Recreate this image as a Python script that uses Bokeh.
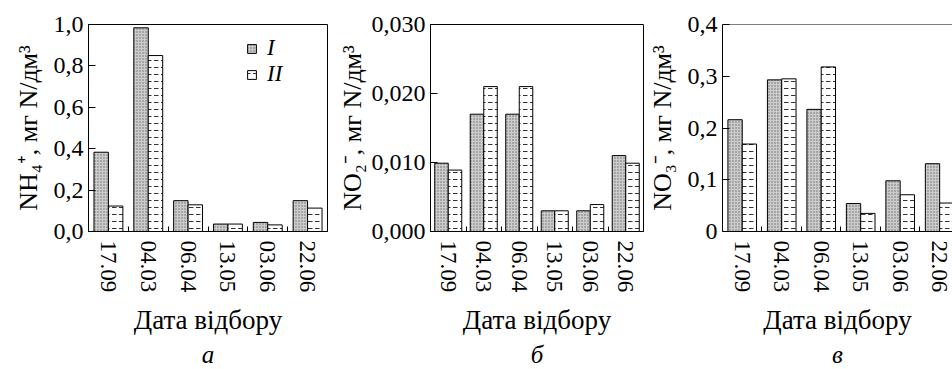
from bokeh.plotting import figure
from bokeh.layouts import row
from bokeh.models import (FixedTicker, Legend, LegendItem, Span, Title, Range1d,
                          ColumnDataSource, CustomJSTickFormatter)
from bokeh.embed import file_html
from bokeh.resources import INLINE

dates = ["17.09", "04.03", "06.04", "13.05", "03.06", "22.06"]
nh4_I = [0.383, 0.984, 0.149, 0.036, 0.044, 0.149]
nh4_II = [0.123, 0.850, 0.129, 0.036, 0.032, 0.113]
no2_I = [0.0099, 0.0170, 0.0170, 0.0030, 0.0030, 0.0110]
no2_II = [0.0089, 0.0210, 0.0210, 0.0030, 0.0039, 0.0099]
no3_I = [0.216, 0.293, 0.236, 0.054, 0.098, 0.131]
no3_II = [0.169, 0.295, 0.318, 0.035, 0.071, 0.055]

FONT = "Liberation Serif"
H = 369


def panel(width, bl, br, xend, ymax, yticks, ydec, ylabel, ylstand, letter, vI, vII,
          bw, legend=False, outline=True, zero_int=False):
    p = figure(width=width, height=H, output_backend="svg", toolbar_location=None,
               x_range=Range1d(-0.5, xend), y_range=Range1d(0, ymax),
               min_border_left=bl, min_border_right=br, min_border_top=24,
               min_border_bottom=138)
    p.xgrid.visible = False
    p.ygrid.visible = False
    p.background_fill_color = "white"
    p.border_fill_color = "white"
    p.outline_line_color = "black" if outline else None
    p.outline_line_width = 1
    if not outline:
        p.add_layout(Span(location=ymax, dimension="width", line_color="black",
                          line_width=1))

    idx = list(range(len(dates)))
    src = ColumnDataSource(dict(
        x=idx,
        xI=[i - bw / 2 for i in idx],
        xII=[i + bw / 2 for i in idx],
        vI=vI, vII=vII))
    rI = p.vbar(x="xI", top="vI", bottom=0, width=bw, source=src,
                fill_color="#cccccc", line_color="black", line_width=1,
                hatch_pattern="dot", hatch_color="#6a6a6a", hatch_scale=3,
                hatch_weight=1.0)
    rII = p.vbar(x="xII", top="vII", bottom=0, width=bw, source=src,
                 fill_color="white", line_color="black", line_width=1,
                 hatch_pattern="horizontal_dash", hatch_color="#333333",
                 hatch_scale=7, hatch_weight=1.0)

    # x axis
    xa = p.xaxis[0]
    xa.ticker = FixedTicker(ticks=idx, minor_ticks=[i + 0.5 for i in idx[:-1]])
    xa.formatter = CustomJSTickFormatter(args=dict(labels=dates),
                                         code="return labels[Math.round(tick)] || ''")
    xa.major_label_orientation = "vertical"
    xa.major_tick_in = 0
    xa.major_tick_out = 0
    xa.minor_tick_in = 5
    xa.minor_tick_out = 0
    xa.major_label_standoff = 9
    xa.major_label_text_font = FONT
    xa.major_label_text_font_size = "23px"
    xa.major_label_text_color = "black"
    xa.axis_line_color = "black"
    xa.axis_label = "Дата відбору"
    xa.axis_label_text_font = FONT
    xa.axis_label_text_font_size = "27px"
    xa.axis_label_text_font_style = "normal"
    xa.axis_label_text_color = "black"
    xa.axis_label_standoff = 10

    # y axis
    ya = p.yaxis[0]
    ya.ticker = FixedTicker(ticks=yticks)
    ya.formatter = CustomJSTickFormatter(args=dict(d=ydec, zi=zero_int), code="""
        if (zi && Math.abs(tick) < 1e-12) { return '0'; }
        return tick.toFixed(d).replace('.', ',');
    """)
    ya.major_tick_in = 7
    ya.major_tick_out = 0
    ya.minor_tick_line_color = None
    ya.major_label_standoff = 5
    ya.major_label_text_font = FONT
    ya.major_label_text_font_size = "24px"
    ya.major_label_text_color = "black"
    ya.axis_line_color = "black"
    ya.axis_label = ylabel
    ya.axis_label_text_font = FONT
    ya.axis_label_text_font_size = "26px"
    ya.axis_label_text_font_style = "normal"
    ya.axis_label_text_color = "black"
    ya.axis_label_standoff = ylstand

    p.add_layout(Title(text=letter, align="center", text_font=FONT,
                       text_font_size="25px", text_font_style="italic",
                       text_color="black", standoff=0), "below")

    if legend:
        lg = Legend(items=[LegendItem(label="I", renderers=[rI]),
                           LegendItem(label="II", renderers=[rII])],
                    location=(158, 144), padding=0, margin=0, spacing=0,
                    glyph_width=11, glyph_height=11, label_height=20,
                    label_standoff=10, background_fill_alpha=0,
                    border_line_color=None, label_text_font=FONT,
                    label_text_font_size="23px", label_text_font_style="italic",
                    label_text_color="black")
        p.add_layout(lg)
    return p


pa = panel(334, 88, 7, 5.5, 1.0, [0, 0.2, 0.4, 0.6, 0.8, 1.0], 1,
           "NH₄⁺, мг N/дм³", 8, "а", nh4_I, nh4_II, 14.5 / 40, legend=True)
pb = panel(310, 88, 1, 5.5, 0.030, [0, 0.010, 0.020, 0.030], 3,
           "NO₂⁻, мг N/дм³", 2, "б", no2_I, no2_II, 14.0 / 36.8)
pc = panel(308, 75, 0, 5.325, 0.4, [0, 0.1, 0.2, 0.3, 0.4], 1,
           "NO₃⁻, мг N/дм³", 8, "в", no3_I, no3_II, 14.5 / 40, outline=False,
           zero_int=True)

layout = row(pa, pb, pc, spacing=0)
open("out.html", "w").write(file_html(layout, INLINE))
